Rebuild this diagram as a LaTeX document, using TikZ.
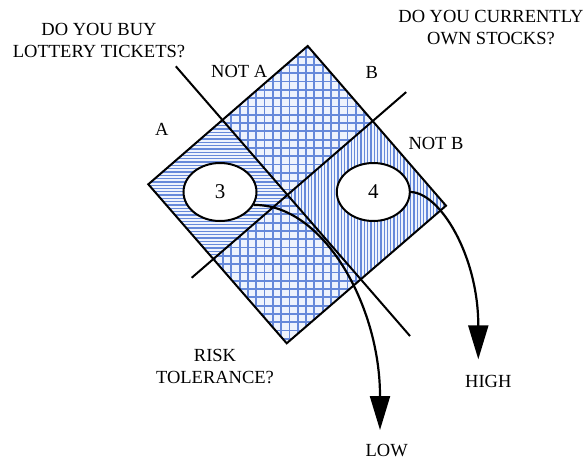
\documentclass[tikz,border=0pt]{standalone}
\usepackage{fontspec}
\setmainfont{Liberation Serif}
\usepackage{xcolor}
\usepackage{tikz}
\usetikzlibrary{calc,positioning,shapes.geometric,arrows.meta}
\definecolor{hatchblue}{HTML}{6689DA}
\definecolor{hatchbg}{HTML}{EEF3FD}

\tikzset{
  rim/.style={line width=2pt, line join=miter},
  hatch/.style={hatchblue, line width=1.3pt},
  gridln/.style={hatchblue, line width=1.8pt},
  oval/.style={ellipse, draw, line width=2pt, fill=white, minimum width=73pt,
    minimum height=58pt, inner sep=0pt, font=\fontsize{21}{24}\selectfont},
  lbl/.style={font=\fontsize{18.5}{22}\selectfont, align=center, inner sep=0pt},
  flow/.style={line width=2.2pt, -{Triangle[length=34pt,width=20pt]}}
}

\begin{document}
\begin{tikzpicture}[x=1pt,y=-1pt]
  \useasboundingbox (0,0) rectangle (587,461);

  % Square corners
  \coordinate (sqT) at (307.7,46);
  \coordinate (sqL) at (148.3,184.3);
  \coordinate (sqB) at (286.7,343.3);
  \coordinate (sqR) at (446,205.7);

  % Dividers
  \coordinate (aTop) at ($(sqL)!0.465!(sqT)$);
  \coordinate (aBot) at ($(sqB)!0.465!(sqR)$);
  \coordinate (bTop) at ($(sqT)!0.47!(sqR)$);
  \coordinate (bBot) at ($(sqL)!0.47!(sqB)$);
  \coordinate (mid) at (intersection of aTop--aBot and bTop--bBot);
  \coordinate (aStart) at ($(aTop)!-0.337!(aBot)$);
  \coordinate (aEnd) at ($(aTop)!1.356!(aBot)$);
  \coordinate (bStart) at ($(bBot)!1.21!(bTop)$);
  \coordinate (bEnd) at ($(bBot)!-0.136!(bTop)$);

  % Left quarter: horizontal stripes
  \begin{scope}
    \clip (sqL) -- (aTop) -- (mid) -- (bBot) -- cycle;
    \fill[hatchbg] (140,40) rectangle (450,350);
    \foreach \k in {0,...,95} \draw[hatch] (140,40+3.3*\k) -- (450,40+3.3*\k);
  \end{scope}

  % Right quarter: vertical stripes
  \begin{scope}
    \clip (mid) -- (bTop) -- (sqR) -- (aBot) -- cycle;
    \fill[hatchbg] (140,40) rectangle (450,350);
    \foreach \k in {0,...,95} \draw[hatch] (140+3.3*\k,40) -- (140+3.3*\k,350);
  \end{scope}

  % Top and bottom quarters: grid
  \begin{scope}
    \clip (aTop) -- (sqT) -- (bTop) -- (mid) -- cycle
          (bBot) -- (mid) -- (aBot) -- (sqB) -- cycle;
    \fill[hatchbg] (140,40) rectangle (450,350);
    \foreach \k in {0,...,38} {
      \draw[gridln] (140,40+8.3*\k) -- (450,40+8.3*\k);
      \draw[gridln] (140+8.3*\k,40) -- (140+8.3*\k,350);
    }
  \end{scope}

  % Outline and dividers
  \draw[rim] (sqL) -- (sqT) -- (sqR) -- (sqB) -- cycle;
  \draw[rim] (aStart) -- (aEnd);
  \draw[rim] (bStart) -- (bEnd);

  % Ovals
  \node[oval] (e3) at (220,192) {3};
  \node[oval] (e4) at (373.3,192) {4};

  % Labels
  \node[lbl] (lottery) at (99,41) {DO YOU BUY\\LOTTERY TICKETS?};
  \node[lbl] (stocks) at (491,27.5) {DO YOU CURRENTLY\\OWN STOCKS?};
  \node[lbl] (notA) at (239.2,71.7) {NOT A};
  \node[lbl] (labB) at (371.7,72.5) {B};
  \node[lbl] (labA) at (161.7,129) {A};
  \node[lbl] (notB) at (436,143.3) {NOT B};
  \node[lbl] (risk) at (215,366.5) {RISK\\TOLERANCE?};
  \node[lbl] (high) at (488.3,381) {HIGH};
  \node[lbl] (low) at (386.7,451) {LOW};

  % Arrows
  \coordinate (lowtip) at (380,430);
  \coordinate (hightip) at (478.3,359.3);
  \draw[flow] (e3.-21) .. controls (323,204) and (380,305) .. (380,396) -- (lowtip);
  \draw[flow] (e4.east) .. controls (440,193) and (478,255) .. (478.3,325) -- (hightip);

\end{tikzpicture}
\end{document}
